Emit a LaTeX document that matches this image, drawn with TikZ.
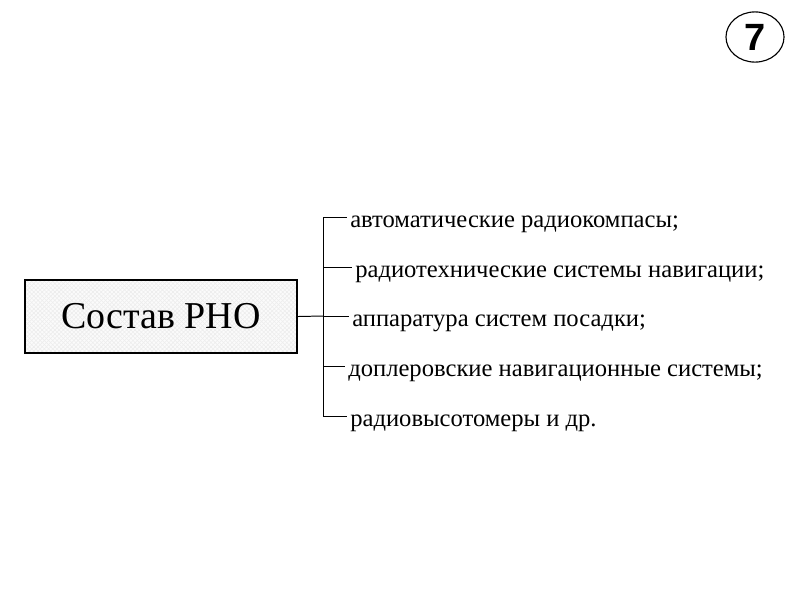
\documentclass[tikz,border=0pt]{standalone}
\usepackage{fontspec}
\setmainfont{Liberation Serif}
\newfontfamily\numfont{Liberation Sans}
\usetikzlibrary{patterns,shapes.geometric}

\begin{document}
\begin{tikzpicture}[x=0.025cm,y=-0.025cm,
    mainbox/.style={draw,line width=1.6pt,
      preaction={fill=gray!3},
      preaction={pattern=crosshatch,pattern color=gray!14},
      minimum width=6.8cm,minimum height=1.83cm,
      font=\fontsize{27}{32}\selectfont},
    item/.style={anchor=base west,inner sep=0pt,font=\fontsize{17.5}{21}\selectfont},
    branch/.style={line width=0.7pt}]
  \useasboundingbox (0,0) rectangle (800,600);
  % main box
  \node[mainbox] (rno) at (161,316.5) {Состав РНО};
  % list of items (baseline 10px under its branch)
  \coordinate (fork) at (323,316);
  \coordinate (top) at (323,217);
  \coordinate (bot) at (323,416);
  \node[item] (i1) at (350,227) {автоматические радиокомпасы;};
  \node[item] (i2) at (355,277) {радиотехнические системы навигации;};
  \node[item] (i3) at (352,326) {аппаратура систем посадки;};
  \node[item] (i4) at (348,376) {доплеровские навигационные системы;};
  \node[item] (i5) at (350,426) {радиовысотомеры и др.};
  \draw[branch] (rno.east) -- (fork);
  \draw[branch] (top) -- (bot);
  \foreach \i/\y in {1/217,2/267,3/316,4/366,5/416}
    \draw[branch] (fork |- 0,\y) -- ([xshift=-2pt]i\i.base west |- 0,\y);
  % page number
  \node[draw,ellipse,line width=0.8pt,minimum width=1.45cm,minimum height=1.25cm,
    font=\numfont\bfseries\fontsize{27}{30}\selectfont] (num) at (755,37) {7};
\end{tikzpicture}
\end{document}
